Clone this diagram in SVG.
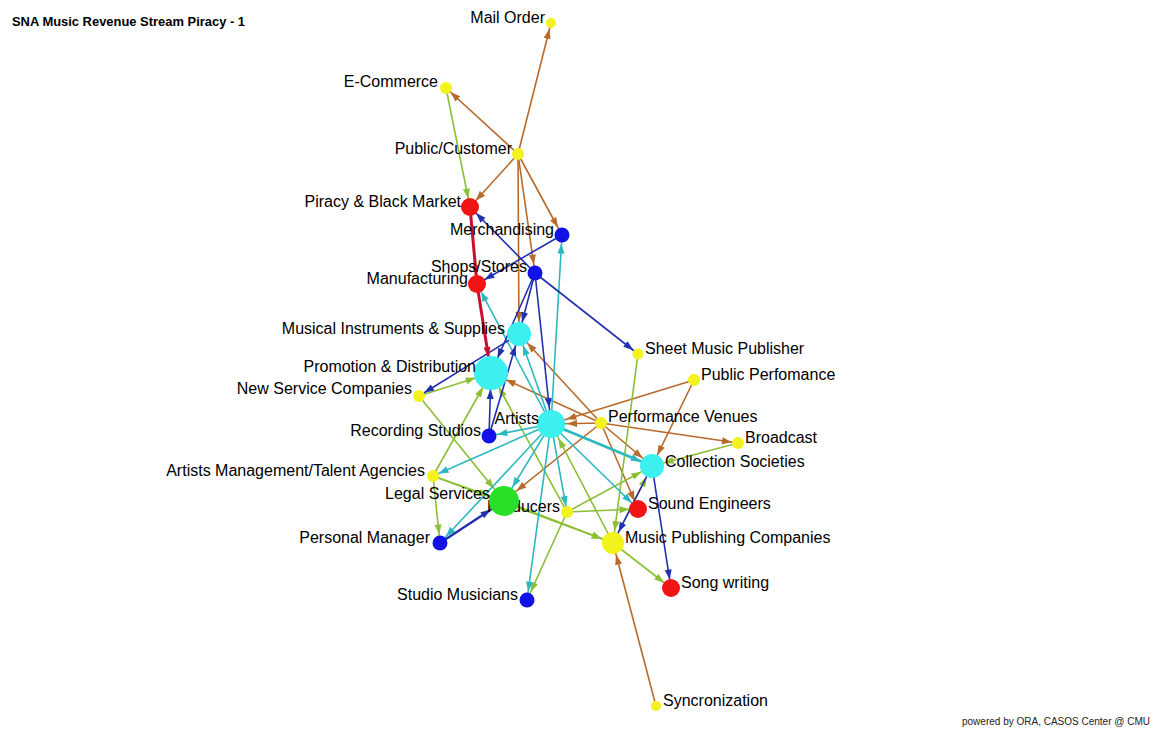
<svg xmlns="http://www.w3.org/2000/svg" width="1156" height="730" viewBox="0 0 1156 730">
  <style>
    .e{fill:none;stroke-width:1.6;stroke-linecap:round}
    .br{stroke:#b86a2a}
    .gr{stroke:#8cbf34}
    .cy{stroke:#2cb8c0}
    .bl{stroke:#2230b0}
    .rd{stroke:#c8102e;stroke-width:3}
    .lbl{font-family:"Liberation Sans",Arial,sans-serif;font-size:16px;fill:#000}
    .l{text-anchor:end}
    .y{fill:#f2f21c}
    .r{fill:#f01414}
    .b{fill:#1212e6}
    .c{fill:#3cf0f0}
    .g{fill:#28e028}
  </style>
  <defs>
    <!-- arrowheads: colour + target radius class (s=6, m=8.5, l=12, xl=16) -->
    <marker id="br-s" markerUnits="userSpaceOnUse" markerWidth="10" markerHeight="7" refX="16" refY="3.5" orient="auto" overflow="visible"><path d="M0,0L10,3.5L0,7z" fill="#b86a2a"/></marker>
    <marker id="br-m" markerUnits="userSpaceOnUse" markerWidth="10" markerHeight="7" refX="18.5" refY="3.5" orient="auto" overflow="visible"><path d="M0,0L10,3.5L0,7z" fill="#b86a2a"/></marker>
    <marker id="br-l" markerUnits="userSpaceOnUse" markerWidth="10" markerHeight="7" refX="22" refY="3.5" orient="auto" overflow="visible"><path d="M0,0L10,3.5L0,7z" fill="#b86a2a"/></marker>
    <marker id="br-xl" markerUnits="userSpaceOnUse" markerWidth="10" markerHeight="7" refX="26" refY="3.5" orient="auto" overflow="visible"><path d="M0,0L10,3.5L0,7z" fill="#b86a2a"/></marker>
    <marker id="gr-s" markerUnits="userSpaceOnUse" markerWidth="10" markerHeight="7" refX="16" refY="3.5" orient="auto" overflow="visible"><path d="M0,0L10,3.5L0,7z" fill="#8cbf34"/></marker>
    <marker id="gr-m" markerUnits="userSpaceOnUse" markerWidth="10" markerHeight="7" refX="18.5" refY="3.5" orient="auto" overflow="visible"><path d="M0,0L10,3.5L0,7z" fill="#8cbf34"/></marker>
    <marker id="gr-l" markerUnits="userSpaceOnUse" markerWidth="10" markerHeight="7" refX="22" refY="3.5" orient="auto" overflow="visible"><path d="M0,0L10,3.5L0,7z" fill="#8cbf34"/></marker>
    <marker id="gr-xl" markerUnits="userSpaceOnUse" markerWidth="10" markerHeight="7" refX="26" refY="3.5" orient="auto" overflow="visible"><path d="M0,0L10,3.5L0,7z" fill="#8cbf34"/></marker>
    <marker id="cy-s" markerUnits="userSpaceOnUse" markerWidth="10" markerHeight="7" refX="16" refY="3.5" orient="auto" overflow="visible"><path d="M0,0L10,3.5L0,7z" fill="#2cb8c0"/></marker>
    <marker id="cy-m" markerUnits="userSpaceOnUse" markerWidth="10" markerHeight="7" refX="18.5" refY="3.5" orient="auto" overflow="visible"><path d="M0,0L10,3.5L0,7z" fill="#2cb8c0"/></marker>
    <marker id="cy-l" markerUnits="userSpaceOnUse" markerWidth="10" markerHeight="7" refX="22" refY="3.5" orient="auto" overflow="visible"><path d="M0,0L10,3.5L0,7z" fill="#2cb8c0"/></marker>
    <marker id="cy-xl" markerUnits="userSpaceOnUse" markerWidth="10" markerHeight="7" refX="26" refY="3.5" orient="auto" overflow="visible"><path d="M0,0L10,3.5L0,7z" fill="#2cb8c0"/></marker>
    <marker id="bl-s" markerUnits="userSpaceOnUse" markerWidth="10" markerHeight="7" refX="16" refY="3.5" orient="auto" overflow="visible"><path d="M0,0L10,3.5L0,7z" fill="#2230b0"/></marker>
    <marker id="bl-m" markerUnits="userSpaceOnUse" markerWidth="10" markerHeight="7" refX="18.5" refY="3.5" orient="auto" overflow="visible"><path d="M0,0L10,3.5L0,7z" fill="#2230b0"/></marker>
    <marker id="bl-l" markerUnits="userSpaceOnUse" markerWidth="10" markerHeight="7" refX="22" refY="3.5" orient="auto" overflow="visible"><path d="M0,0L10,3.5L0,7z" fill="#2230b0"/></marker>
    <marker id="bl-xl" markerUnits="userSpaceOnUse" markerWidth="10" markerHeight="7" refX="26" refY="3.5" orient="auto" overflow="visible"><path d="M0,0L10,3.5L0,7z" fill="#2230b0"/></marker>
    <marker id="rd-m" markerUnits="userSpaceOnUse" markerWidth="10" markerHeight="7" refX="18.5" refY="3.5" orient="auto" overflow="visible"><path d="M0,0L10,3.5L0,7z" fill="#c8102e"/></marker>
    <marker id="rd-xl" markerUnits="userSpaceOnUse" markerWidth="10" markerHeight="7" refX="26" refY="3.5" orient="auto" overflow="visible"><path d="M0,0L10,3.5L0,7z" fill="#c8102e"/></marker>
  </defs>

  <rect width="1156" height="730" fill="#ffffff"/>

  <text x="12" y="26" font-family="'Liberation Sans',Arial,sans-serif" font-size="13" font-weight="bold" textLength="233" lengthAdjust="spacingAndGlyphs">SNA Music Revenue Stream Piracy - 1</text>

  <g id="connectors">
    <!-- brown links -->
    <line class="e br" x1="518" y1="154" x2="551" y2="23" marker-end="url(#br-s)"/>
    <line class="e br" x1="518" y1="154" x2="446" y2="88" marker-end="url(#br-s)"/>
    <line class="e br" x1="518" y1="154" x2="470" y2="207" marker-end="url(#br-m)"/>
    <line class="e br" x1="518" y1="154" x2="562" y2="235" marker-end="url(#br-m)"/>
    <line class="e br" x1="518" y1="154" x2="535" y2="273" marker-end="url(#br-m)"/>
    <line class="e br" x1="518" y1="154" x2="519" y2="334" marker-end="url(#br-l)"/>
    <line class="e br" x1="601" y1="423" x2="551" y2="424" marker-end="url(#br-xl)"/>
    <line class="e br" x1="601" y1="423" x2="738" y2="443" marker-end="url(#br-s)"/>
    <line class="e br" x1="601" y1="423" x2="519" y2="334" marker-end="url(#br-l)"/>
    <line class="e br" x1="601" y1="423" x2="491" y2="373" marker-end="url(#br-xl)"/>
    <line class="e br" x1="694" y1="380" x2="551" y2="424" marker-end="url(#br-xl)"/>
    <line class="e br" x1="694" y1="380" x2="652" y2="466" marker-end="url(#br-l)"/>
    <line class="e br" x1="601" y1="423" x2="652" y2="466" marker-end="url(#br-l)"/>
    <line class="e br" x1="601" y1="423" x2="638" y2="509" marker-end="url(#br-m)"/>
    <line class="e br" x1="601" y1="423" x2="504" y2="501" marker-end="url(#br-xl)"/>
    <line class="e br" x1="656" y1="706" x2="613" y2="543" marker-end="url(#br-l)"/>
    <!-- green links -->
    <line class="e gr" x1="446" y1="88" x2="470" y2="207" marker-end="url(#gr-m)"/>
    <line class="e gr" x1="419" y1="396" x2="491" y2="373" marker-end="url(#gr-xl)"/>
    <line class="e gr" x1="419" y1="396" x2="504" y2="501" marker-end="url(#gr-xl)"/>
    <line class="e gr" x1="433" y1="476" x2="440" y2="543" marker-end="url(#gr-m)"/>
    <line class="e gr" x1="433" y1="476" x2="491" y2="373" marker-end="url(#gr-xl)"/>
    <line class="e gr" x1="433" y1="476" x2="504" y2="501" marker-end="url(#gr-xl)"/>
    <line class="e gr" x1="433" y1="476" x2="613" y2="543" marker-end="url(#gr-l)"/>
    <line class="e gr" x1="567" y1="512" x2="652" y2="466" marker-end="url(#gr-l)"/>
    <line class="e gr" x1="567" y1="512" x2="638" y2="509" marker-end="url(#gr-m)"/>
    <line class="e gr" x1="567" y1="512" x2="527" y2="600" marker-end="url(#gr-m)"/>
    <line class="e gr" x1="567" y1="512" x2="491" y2="373" marker-end="url(#gr-xl)"/>
    <line class="e gr" x1="613" y1="543" x2="551" y2="424" marker-end="url(#gr-xl)"/>
    <line class="e gr" x1="613" y1="543" x2="671" y2="588" marker-end="url(#gr-m)"/>
    <line class="e gr" x1="613" y1="543" x2="652" y2="466" marker-end="url(#gr-l)"/>
    <line class="e gr" x1="738" y1="443" x2="652" y2="466" marker-end="url(#gr-l)"/>
    <line class="e gr" x1="638" y1="354" x2="613" y2="543" marker-end="url(#gr-l)"/>
    <line class="e gr" x1="504" y1="501" x2="613" y2="543" marker-end="url(#gr-l)"/>
    <!-- cyan links -->
    <line class="e cy" x1="551" y1="424" x2="562" y2="235" marker-end="url(#cy-m)"/>
    <line class="e cy" x1="551" y1="424" x2="477" y2="284" marker-end="url(#cy-m)"/>
    <line class="e cy" x1="551" y1="424" x2="519" y2="334" marker-end="url(#cy-l)"/>
    <line class="e cy" x1="551" y1="424" x2="489" y2="436" marker-end="url(#cy-m)"/>
    <line class="e cy" x1="551" y1="424" x2="433" y2="476" marker-end="url(#cy-s)"/>
    <line class="e cy" x1="551" y1="424" x2="504" y2="501" marker-end="url(#cy-xl)"/>
    <line class="e cy" x1="551" y1="424" x2="440" y2="543" marker-end="url(#cy-m)"/>
    <line class="e cy" x1="551" y1="424" x2="527" y2="600" marker-end="url(#cy-m)"/>
    <line class="e cy" x1="551" y1="424" x2="567" y2="512" marker-end="url(#cy-s)"/>
    <line class="e cy" x1="551" y1="424" x2="652" y2="466" marker-end="url(#cy-l)" style="stroke-width:2.6"/>
    <line class="e cy" x1="551" y1="424" x2="638" y2="509" marker-end="url(#cy-m)"/>
    <!-- blue links -->
    <line class="e bl" x1="535" y1="273" x2="470" y2="207" marker-end="url(#bl-m)"/>
    <line class="e bl" x1="535" y1="273" x2="638" y2="354" marker-end="url(#bl-s)"/>
    <line class="e bl" x1="562" y1="235" x2="477" y2="284" marker-end="url(#bl-m)"/>
    <line class="e bl" x1="535" y1="273" x2="519" y2="334" marker-end="url(#bl-l)"/>
    <line class="e bl" x1="535" y1="273" x2="491" y2="373" marker-end="url(#bl-xl)"/>
    <line class="e bl" x1="535" y1="273" x2="551" y2="424" marker-end="url(#bl-xl)"/>
    <line class="e bl" x1="519" y1="334" x2="419" y2="396" marker-end="url(#bl-s)"/>
    <line class="e bl" x1="489" y1="436" x2="491" y2="373" marker-end="url(#bl-xl)"/>
    <line class="e bl" x1="489" y1="436" x2="519" y2="334" marker-end="url(#bl-l)"/>
    <line class="e bl" x1="440" y1="543" x2="504" y2="501" marker-end="url(#bl-xl)" style="stroke-width:2.4"/>
    <line class="e bl" x1="652" y1="466" x2="613" y2="543" marker-end="url(#bl-l)"/>
    <line class="e bl" x1="652" y1="466" x2="671" y2="588" marker-end="url(#bl-m)"/>
    <!-- red links -->
    <line class="e rd" x1="470" y1="207" x2="477" y2="284" marker-end="url(#rd-m)"/>
    <line class="e rd" x1="477" y1="284" x2="491" y2="373" marker-end="url(#rd-xl)"/>
  </g>

  <g id="n-mail-order"><circle class="y" cx="551" cy="23" r="5"/><text class="lbl l" x="545" y="23">Mail Order</text></g>
  <g id="n-e-commerce"><circle class="y" cx="446" cy="88" r="6"/><text class="lbl l" x="438" y="87">E-Commerce</text></g>
  <g id="n-public-customer"><circle class="y" cx="518" cy="154" r="6"/><text class="lbl l" x="512" y="154">Public/Customer</text></g>
  <g id="n-piracy"><circle class="r" cx="470" cy="207" r="9"/><text class="lbl l" x="461" y="207">Piracy &amp; Black Market</text></g>
  <g id="n-manufacturing"><circle class="r" cx="477" cy="284" r="9"/><text class="lbl l" x="468" y="284">Manufacturing</text></g>
  <g id="n-merchandising"><circle class="b" cx="562" cy="235" r="7.5"/><text class="lbl l" x="554" y="235">Merchandising</text></g>
  <g id="n-shops-stores"><circle class="b" cx="535" cy="273" r="7.5"/><text class="lbl l" x="527" y="272">Shops/Stores</text></g>
  <g id="n-musical-instruments"><circle class="c" cx="519" cy="334" r="12"/><text class="lbl l" x="505" y="334">Musical Instruments &amp; Supplies</text></g>
  <g id="n-promotion"><circle class="c" cx="491" cy="373" r="17"/><text class="lbl l" x="476" y="372">Promotion &amp; Distribution</text></g>
  <g id="n-new-service"><circle class="y" cx="419" cy="396" r="6"/><text class="lbl l" x="412" y="394">New Service Companies</text></g>
  <g id="n-sheet-music"><circle class="y" cx="638" cy="354" r="5.5"/><text class="lbl" x="645" y="354">Sheet Music Publisher</text></g>
  <g id="n-public-perfomance"><circle class="y" cx="694" cy="380" r="6"/><text class="lbl" x="701" y="380">Public Perfomance</text></g>
  <g id="n-performance-venues"><circle class="y" cx="601" cy="423" r="6"/><text class="lbl" x="608" y="422">Performance Venues</text></g>
  <g id="n-artists"><circle class="c" cx="551" cy="424" r="14"/><text class="lbl l" x="539" y="424">Artists</text></g>
  <g id="n-recording-studios"><circle class="b" cx="489" cy="436" r="7.5"/><text class="lbl l" x="481" y="436">Recording Studios</text></g>
  <g id="n-broadcast"><circle class="y" cx="738" cy="443" r="6"/><text class="lbl" x="745" y="443">Broadcast</text></g>
  <g id="n-collection-societies"><circle class="c" cx="652" cy="466" r="12"/><text class="lbl" x="665" y="467">Collection Societies</text></g>
  <g id="n-artists-management"><circle class="y" cx="433" cy="476" r="6"/><text class="lbl l" x="425" y="476">Artists Management/Talent Agencies</text></g>
  <g id="n-producers"><circle class="y" cx="567" cy="512" r="6"/><text class="lbl l" x="560" y="512">Producers</text></g>
  <g id="n-legal-services"><circle class="g" cx="504" cy="501" r="15"/><text class="lbl l" x="490" y="499">Legal Services</text></g>
  <g id="n-sound-engineers"><circle class="r" cx="638" cy="509" r="9"/><text class="lbl" x="648" y="509">Sound Engineers</text></g>
  <g id="n-personal-manager"><circle class="b" cx="440" cy="543" r="7.5"/><text class="lbl l" x="430" y="543">Personal Manager</text></g>
  <g id="n-music-publishing"><circle class="y" cx="613" cy="543" r="11"/><text class="lbl" x="625" y="543">Music Publishing Companies</text></g>
  <g id="n-song-writing"><circle class="r" cx="671" cy="588" r="9"/><text class="lbl" x="681" y="588">Song writing</text></g>
  <g id="n-studio-musicians"><circle class="b" cx="527" cy="600" r="7.5"/><text class="lbl l" x="518" y="600">Studio Musicians</text></g>
  <g id="n-syncronization"><circle class="y" cx="656" cy="706" r="5"/><text class="lbl" x="663" y="706">Syncronization</text></g>

  <text x="1150" y="725" text-anchor="end" font-family="'Liberation Sans',Arial,sans-serif" font-size="10" fill="#222">powered by ORA, CASOS Center @ CMU</text>
</svg>
